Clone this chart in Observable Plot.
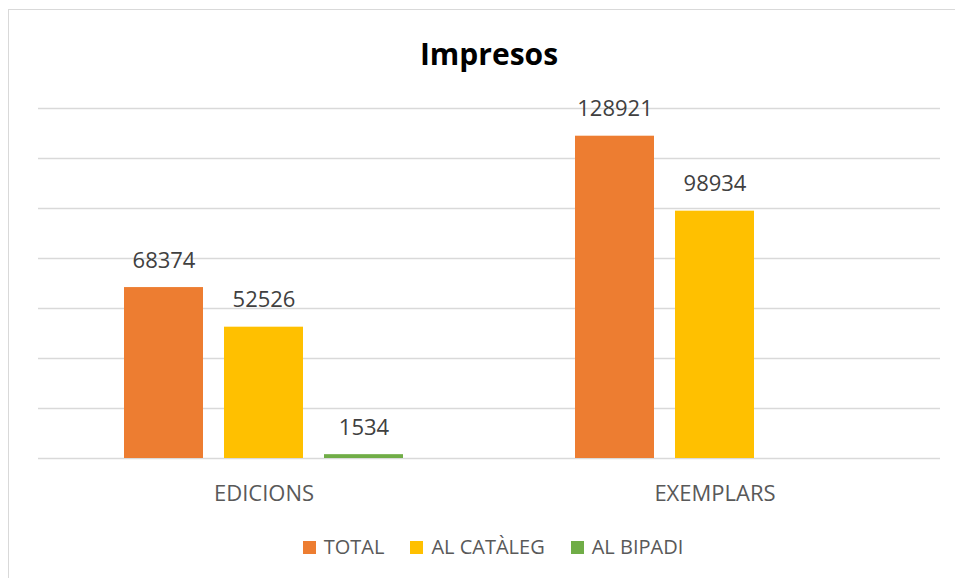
<!DOCTYPE html>
<html>
<head>
<meta charset="utf-8">
<script src="https://cdn.jsdelivr.net/npm/d3@7"></script>
<script src="https://cdn.jsdelivr.net/npm/@observablehq/plot@0.6"></script>
<style>
  html, body { margin: 0; padding: 0; background: #fff; overflow: hidden; }
  body { width: 955px; height: 578px; position: relative; font-family: "Open Sans", sans-serif; }
  #frame { position: absolute; left: 8px; top: 9px; width: 1000px; height: 1000px; border: 1px solid #d9d9d9; box-sizing: border-box; }
  #title { position: absolute; left: 0; top: 34px; width: 978px; text-align: center; font-size: 30px; font-weight: bold; color: #000; line-height: 40px; }
  #chart { position: absolute; left: 0; top: 80px; }
  #chart svg { font-family: "Open Sans", sans-serif; }
  #chart [aria-label^="fx-axis"] text { font-size: 22px; fill: #595959; }
  #legend { position: absolute; left: 0; top: 533px; width: 986px; display: flex; justify-content: center; align-items: center; font-size: 20px; color: #595959; line-height: 28px; }
  .item { display: flex; align-items: center; margin: 0 13px; }
  .sw { width: 13px; height: 13px; margin-right: 8px; }
</style>
</head>
<body>
<div id="frame"></div>
<div id="title">Impresos</div>
<div id="chart"></div>
<div id="legend"></div>
<script>
const categories = ["EDICIONS", "EXEMPLARS"];
const series = ["TOTAL", "AL CATÀLEG", "AL BIPADI"];
const totalValues = [68374, 128921];
const catalegValues = [52526, 98934];
const bipadiValues = [1534, null];
const gridTicks = [0, 20000, 40000, 60000, 80000, 100000, 120000, 140000];
const seriesColors = ["#ED7D31", "#FFC000", "#70AD47"];

const valuesBySeries = [totalValues, catalegValues, bipadiValues];
const rows = [];
categories.forEach((c, i) => {
  series.forEach((s, j) => {
    const v = valuesBySeries[j][i];
    if (v != null) rows.push({category: c, series: s, value: v});
  });
});

const chart = Plot.plot({
  width: 955,
  height: 440,
  marginLeft: 38,
  marginRight: 15,
  marginTop: 28,
  marginBottom: 62,
  fx: {domain: categories, padding: 0, label: null, axis: "bottom", tickSize: 0, tickPadding: 27},
  x: {domain: series, paddingInner: 0.21, paddingOuter: 0.86, axis: null},
  y: {domain: [0, 140000], axis: null},
  color: {domain: series, range: seriesColors},
  marks: [
    Plot.ruleY(gridTicks, {stroke: "#d9d9d9", strokeWidth: 1.3}),
    Plot.barY(rows, {fx: "category", x: "series", y: "value", fill: "series"}),
    Plot.text(rows, {fx: "category", x: "series", y: "value", text: d => String(d.value), dy: -27, fontSize: 22, fill: "#404040"})
  ]
});
document.getElementById("chart").appendChild(chart);

const legend = document.getElementById("legend");
series.forEach((s, j) => {
  const item = document.createElement("div");
  item.className = "item";
  const sw = document.createElement("div");
  sw.className = "sw";
  sw.style.background = seriesColors[j];
  const label = document.createElement("span");
  label.textContent = s;
  item.appendChild(sw);
  item.appendChild(label);
  legend.appendChild(item);
});
</script>
</body>
</html>
